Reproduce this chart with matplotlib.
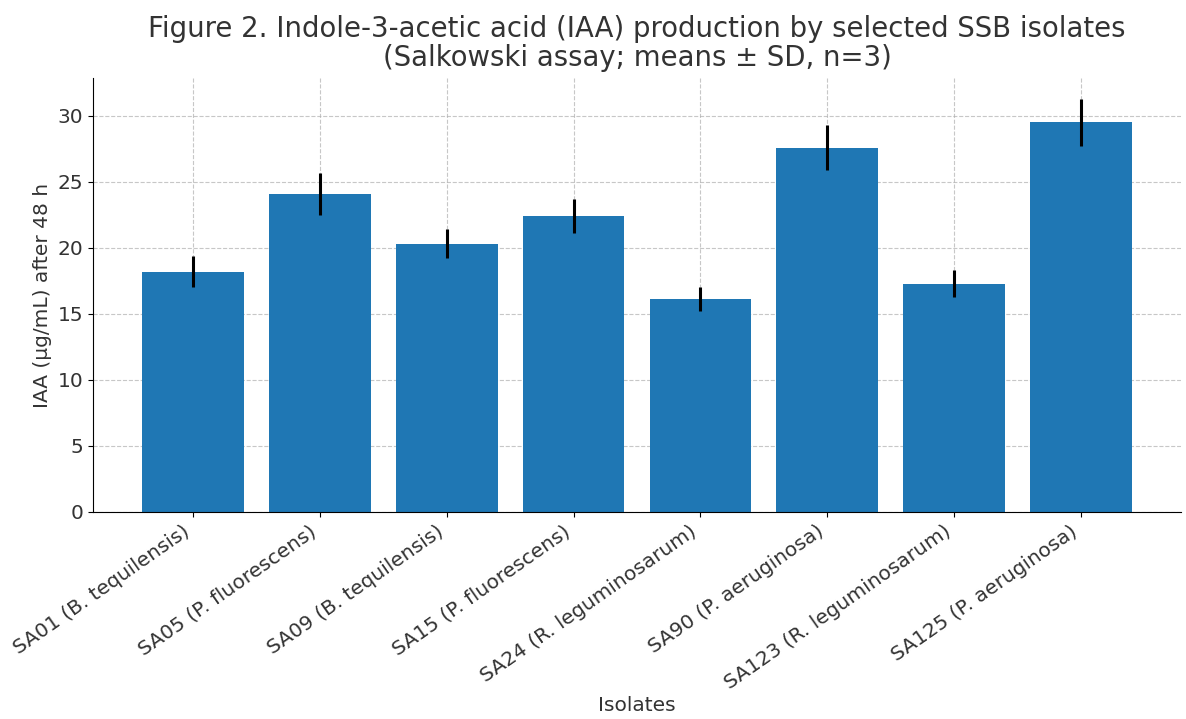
import numpy as np
import matplotlib
matplotlib.use("Agg")
import matplotlib.pyplot as plt

# IAA after 48 h, means and SD
isolates = [
    "SA01 (B. tequilensis)",
    "SA05 (P. fluorescens)",
    "SA09 (B. tequilensis)",
    "SA15 (P. fluorescens)",
    "SA24 (R. leguminosarum)",
    "SA90 (P. aeruginosa)",
    "SA123 (R. leguminosarum)",
    "SA125 (P. aeruginosa)",
]
iaa_mean = [18.2, 24.1, 20.3, 22.4, 16.1, 27.6, 17.3, 29.5]
iaa_sd = [1.2, 1.6, 1.1, 1.3, 0.9, 1.7, 1.0, 1.8]

text_color = "#333333"

fig = plt.figure(figsize=(11.86, 7.19), dpi=100)
ax = fig.add_axes([0.0784, 0.288, 0.9174, 0.6035])

x = np.arange(len(isolates))
ax.bar(x, iaa_mean, width=0.8, color="#1f77b4", zorder=2)
ax.errorbar(x, iaa_mean, yerr=iaa_sd, fmt="none", ecolor="black",
            elinewidth=2.2, capsize=0, zorder=3)

ax.set_xticks(x)
ax.set_xticklabels(isolates, rotation=35, ha="right", fontsize=14.5, color=text_color)
ax.tick_params(axis="y", labelsize=14.5, labelcolor=text_color)

ax.set_xlabel("Isolates", fontsize=14.5, color=text_color, labelpad=2)
ax.set_ylabel("IAA (µg/mL) after 48 h", fontsize=14.5, color=text_color)
ax.set_title("Figure 2. Indole-3-acetic acid (IAA) production by selected SSB isolates\n"
             "(Salkowski assay; means ± SD, n=3)", fontsize=19.8, color=text_color,
             pad=9, linespacing=1.02)

ax.grid(True, linestyle="--", linewidth=0.8, color="#b0b0b0", alpha=0.7, zorder=0)
ax.set_axisbelow(True)
ax.spines["top"].set_visible(False)
ax.spines["right"].set_visible(False)

fig.savefig("out.png", dpi=100)
plt.close(fig)
